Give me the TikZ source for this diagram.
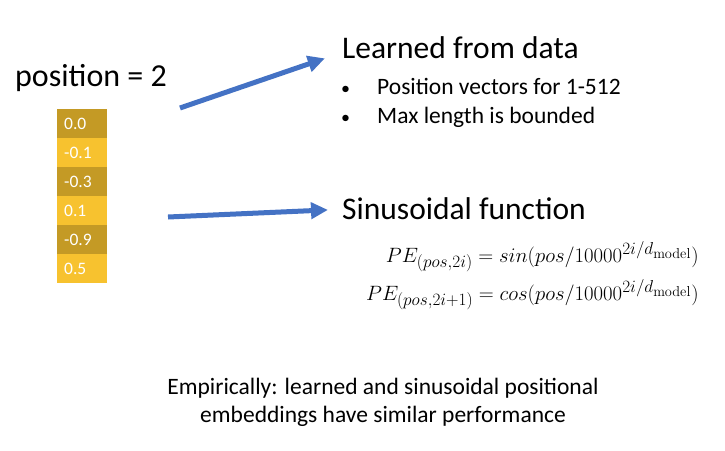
\documentclass[tikz,border=0pt]{standalone}
\usepackage{amsmath}
\usepackage[no-math]{fontspec}
\setmainfont{Carlito}
\DeclareMathSizes{22.5}{22.5}{18}{14}
\usetikzlibrary{arrows.meta}
\definecolor{golddark}{HTML}{C49A25}
\definecolor{goldlight}{HTML}{F7C22F}
\definecolor{arrowblue}{HTML}{4472C4}
\tikzset{
  cell/.style={minimum width=50pt, minimum height=29pt, inner sep=0pt, anchor=north west, text=white, font=\fontsize{17.5}{20}\selectfont, align=left, text width=36pt},
  bigarrow/.style={draw=arrowblue, line width=5pt, -{Triangle[length=17pt,width=16pt]}, shorten >=-2pt},
  head/.style={anchor=base west, font=\fontsize{31.5}{36}\selectfont, inner sep=0pt},
  item/.style={anchor=base west, font=\fontsize{23.5}{28}\selectfont, inner sep=0pt},
  bul/.style={anchor=base west, font=\fontsize{18}{22}\selectfont, inner sep=0pt},
  eq/.style={anchor=base east, font=\fontsize{22.5}{27}\selectfont, inner sep=0pt},
  foot/.style={anchor=base, font=\fontsize{23.5}{28}\selectfont, inner sep=0pt}
}
\begin{document}
\begin{tikzpicture}[x=1pt,y=-1pt]
\useasboundingbox (0,0) rectangle (725,450);
\node[head, font=\fontsize{32}{36}\selectfont] (pos) at (15,86) {position = 2};
\node[cell, fill=golddark] (c1) at (57,109) {0.0};
\node[cell, fill=goldlight] (c2) at (57,138) {-0.1};
\node[cell, fill=golddark] (c3) at (57,167) {-0.3};
\node[cell, fill=goldlight] (c4) at (57,196) {0.1};
\node[cell, fill=golddark] (c5) at (57,225) {-0.9};
\node[cell, fill=goldlight] (c6) at (57,254) {0.5};
\coordinate (a1s) at (180,108);
\coordinate (a1e) at (323,59);
\coordinate (a2s) at (168,217);
\coordinate (a2e) at (326,210);
\draw[bigarrow] (a1s) -- (a1e);
\draw[bigarrow] (a2s) -- (a2e);
\node[head] (learn) at (342,58) {Learned from data};
\node[bul] (b1) at (341,94) {•};
\node[item] (i1) at (377,94) {Position vectors for 1-512};
\node[bul] (b2) at (341,123) {•};
\node[item] (i2) at (377,123) {Max length is bounded};
\node[head] (sin) at (342,219) {Sinusoidal function};
\node[eq] (e1) at (699,262) {$PE_{(pos,2i)} = sin(pos/10000^{2i/d_{\mathrm{model}}})$};
\node[eq] (e2) at (699,300) {$PE_{(pos,2i+1)} = cos(pos/10000^{2i/d_{\mathrm{model}}})$};
\node[foot] (f1) at (383,394) {Empirically: learned and sinusoidal positional};
\node[foot] (f2) at (383,422) {embeddings have similar performance};
\end{tikzpicture}
\end{document}
